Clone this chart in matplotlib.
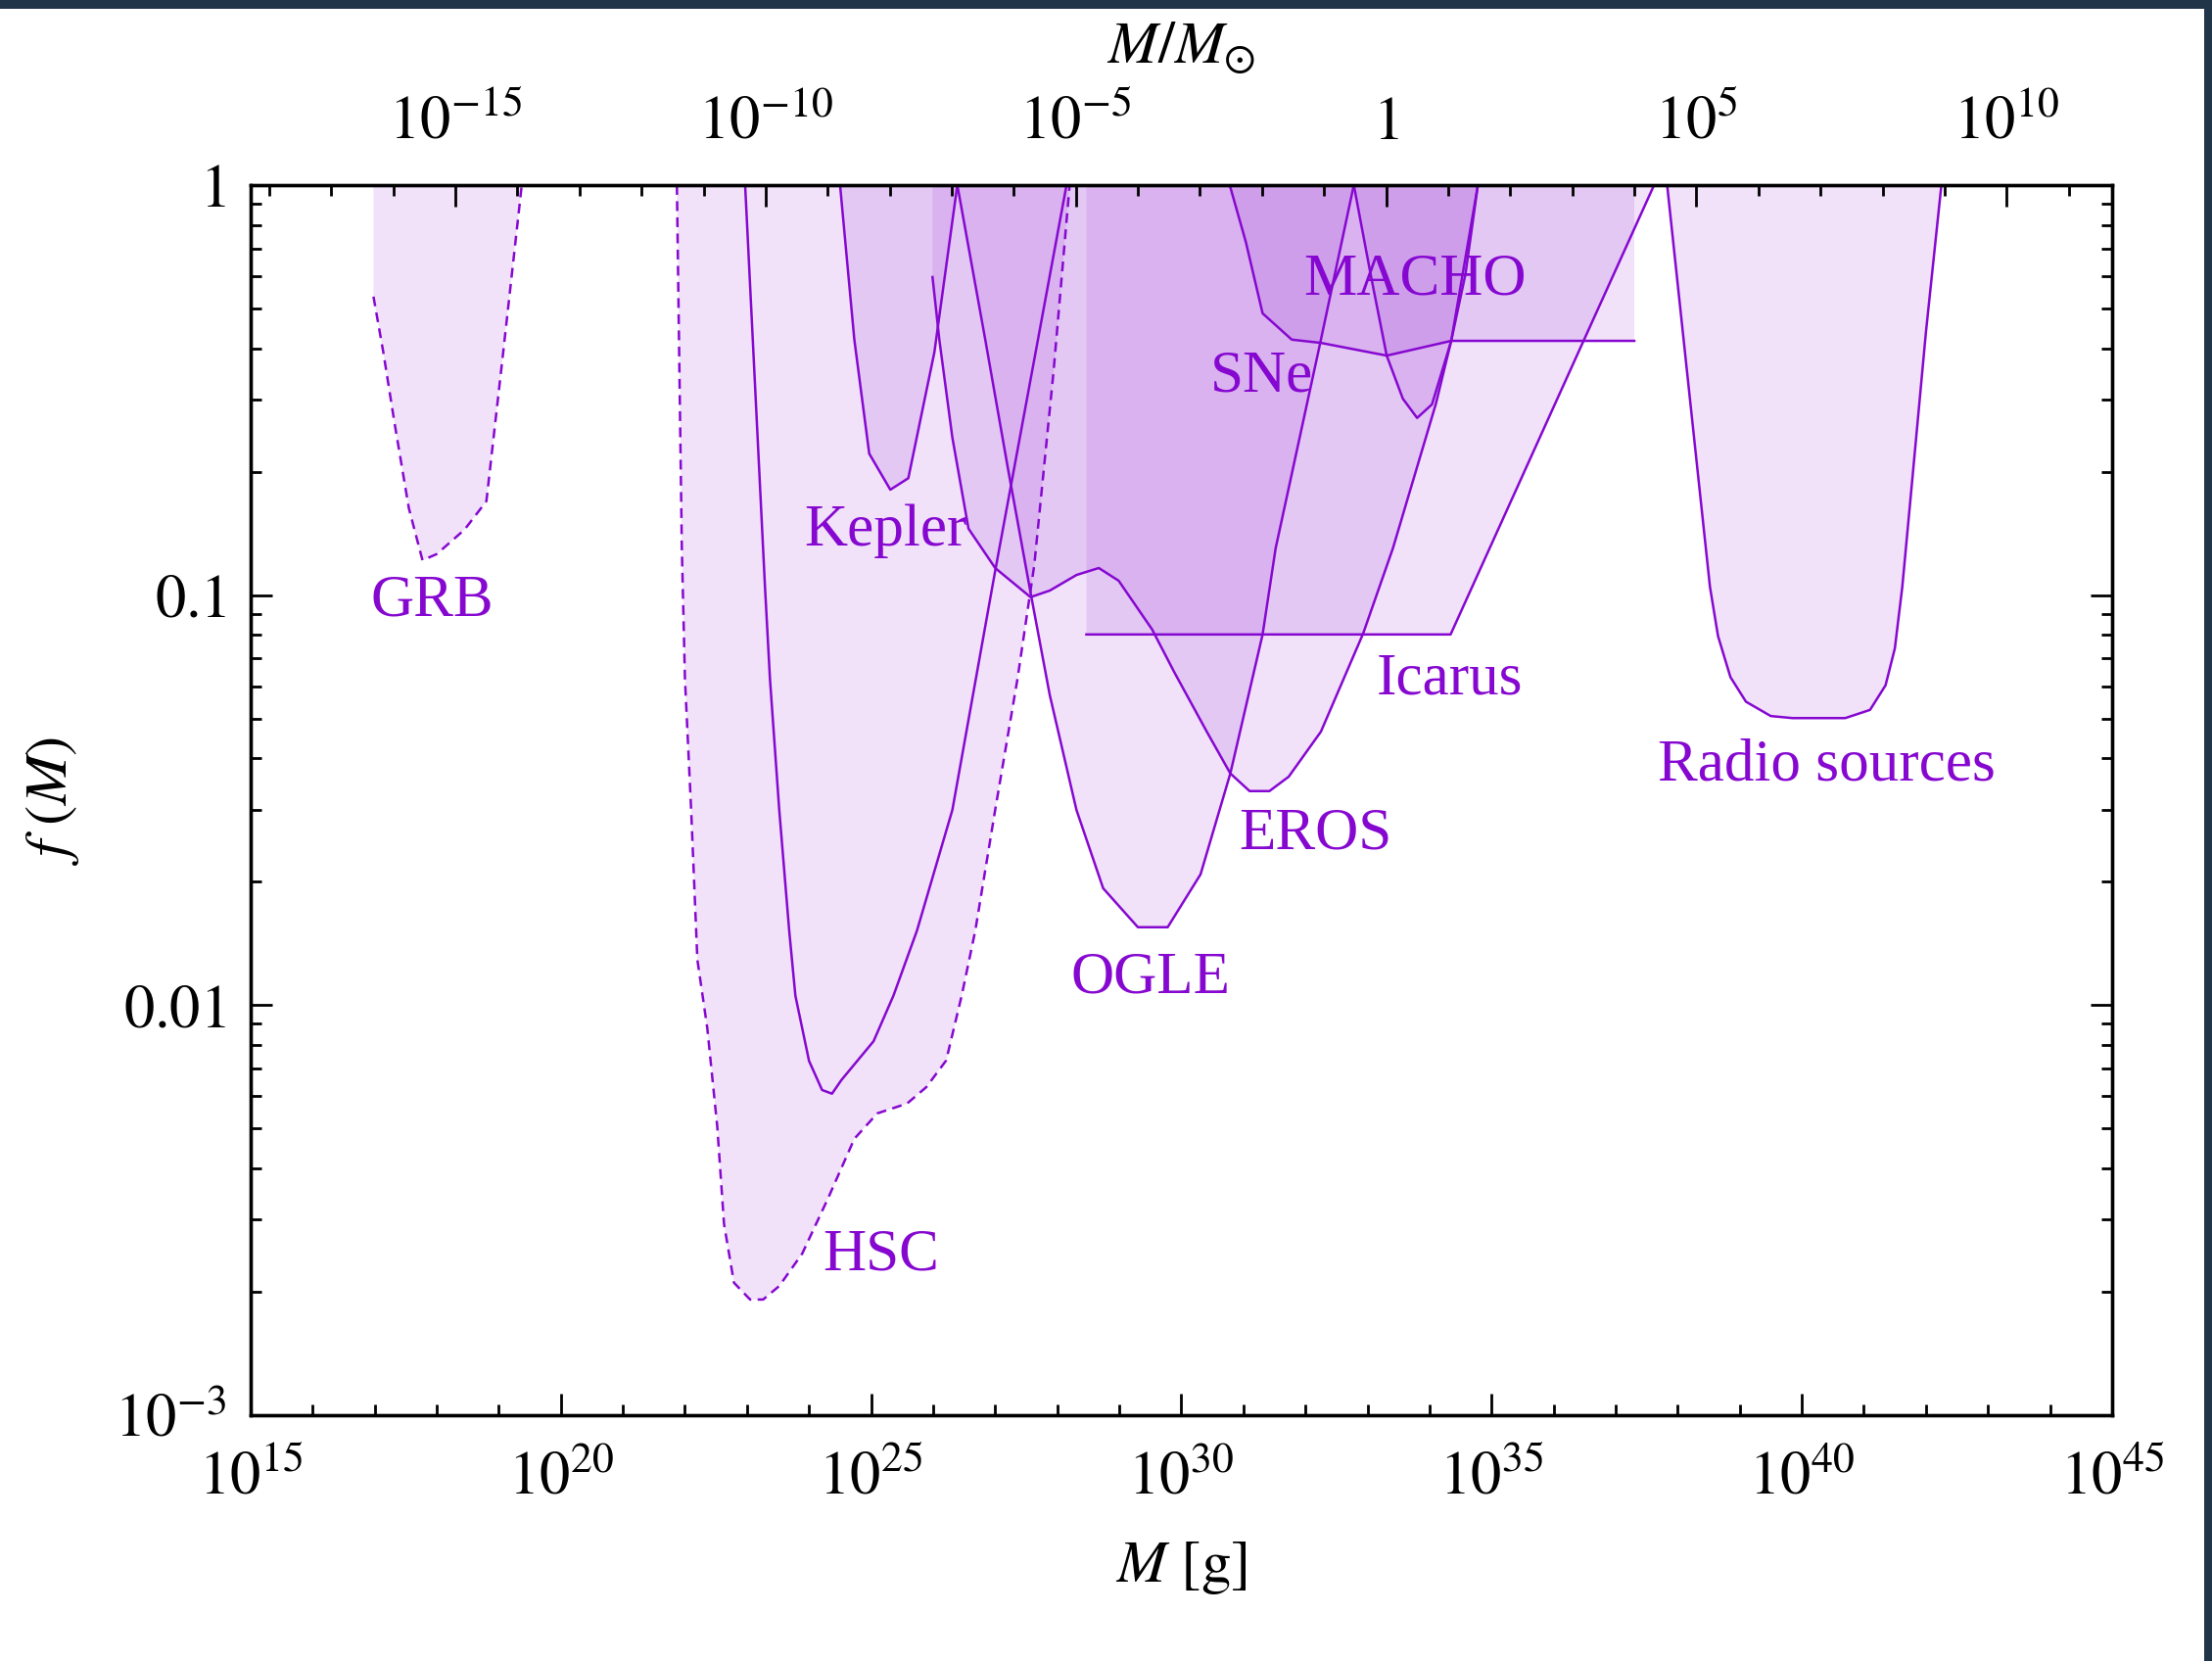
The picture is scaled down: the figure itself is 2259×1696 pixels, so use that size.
import numpy as np
import matplotlib.pyplot as plt
from matplotlib.ticker import FixedLocator, NullFormatter
from matplotlib.patches import Rectangle

plt.rcParams['font.family'] = ['Liberation Serif', 'DejaVu Serif']
plt.rcParams['mathtext.fontset'] = 'stix'

M_SUN = 2e33  # g

# constraint curves: log10(M / g) and log10 f(M)
grb_logm = [16.98, 17.14, 17.32, 17.55, 17.77, 18.0, 18.45, 18.80, 19.07, 19.37]
grb_logf = [-0.272, -0.409, -0.581, -0.788, -0.915, -0.90, -0.84, -0.771, -0.409, 0.0]

hsc_logm = [21.87, 21.95, 22.00, 22.10, 22.20, 22.36, 22.52, 22.63, 22.79, 23.05,
            23.26, 23.52, 23.89, 24.31, 24.73, 25.10, 25.58, 25.89, 26.21, 26.46,
            26.68, 27.00, 27.36, 27.63, 27.94, 28.20]
hsc_logf = [0.0, -0.886, -1.204, -1.524, -1.889, -2.056, -2.295, -2.534, -2.677, -2.718,
            -2.718, -2.685, -2.606, -2.470, -2.326, -2.264, -2.240, -2.200, -2.135, -1.977,
            -1.818, -1.524, -1.204, -0.927, -0.456, 0.0]

hsc2_logm = [22.97, 23.29, 23.37, 23.52, 23.68, 23.78, 24.00, 24.21, 24.37, 24.52,
             25.04, 25.36, 25.74, 26.31, 27.00, 28.15]
hsc2_logf = [0.0, -0.98, -1.204, -1.524, -1.818, -1.977, -2.136, -2.207, -2.216, -2.183,
             -2.088, -1.977, -1.818, -1.524, -0.941, 0.0]

kepler_logm = [24.50, 24.73, 24.97, 25.31, 25.60, 26.02, 26.39]
kepler_logf = [0.0, -0.377, -0.655, -0.743, -0.715, -0.408, 0.0]

eros_logm = [25.99, 26.10, 26.31, 26.57, 27.00, 27.57, 27.88, 28.31, 28.67, 28.99,
             29.53, 29.89, 30.41, 30.79, 31.10, 31.42, 31.73, 32.25, 32.93, 33.41,
             34.10, 34.35, 34.78]
eros_logf = [-0.2245, -0.377, -0.616, -0.838, -0.934, -1.005, -0.989, -0.951, -0.934, -0.965,
             -1.084, -1.189, -1.333, -1.435, -1.478, -1.478, -1.443, -1.333, -1.094, -0.886,
             -0.535, -0.380, 0.0]

ogle_logm = [26.39, 26.84, 27.21, 27.57, 27.88, 28.31, 28.74, 29.30, 29.78, 30.31,
             30.79, 31.31, 31.52, 32.25, 32.78]
ogle_logf = [0.0, -0.377, -0.695, -0.994, -1.244, -1.524, -1.715, -1.810, -1.810, -1.681,
             -1.435, -1.096, -0.886, -0.377, 0.0]

icarus_logm = [28.47, 34.34, 37.62]
icarus_logf = [-1.096, -1.096, 0.0]

macho_logm = [30.78, 31.04, 31.31, 31.78, 32.25, 33.31, 34.35, 37.30]
macho_logf = [0.0, -0.139, -0.313, -0.377, -0.385, -0.416, -0.380, -0.380]

sne_logm = [32.78, 33.05, 33.31, 33.57, 33.80, 34.04, 34.35, 34.58, 34.78]
sne_logf = [0.0, -0.217, -0.416, -0.521, -0.568, -0.535, -0.380, -0.217, 0.0]

radio_logm = [37.83, 38.52, 38.65, 38.85, 39.10, 39.50, 39.85, 40.70, 41.10, 41.35,
              41.50, 41.62, 41.78, 42.00, 42.25]
radio_logf = [0.0, -0.98, -1.10, -1.20, -1.26, -1.295, -1.30, -1.30, -1.28, -1.22,
              -1.13, -0.98, -0.72, -0.36, 0.0]

# label names and where they sit
label_names = ['GRB', 'HSC', 'Kepler', 'OGLE', 'EROS', 'Icarus', 'SNe', 'MACHO', 'Radio sources']
label_logm = [17.93, 25.16, 25.23, 29.50, 32.16, 34.32, 31.29, 33.76, 40.40]
label_logf = [-1.015, -2.611, -0.845, -1.935, -1.584, -1.205, -0.468, -0.232, -1.415]

top_ticks = [1e-15, 1e-10, 1e-5, 1, 1e5, 1e10]
top_labels = [r'$10^{-15}$', r'$10^{-10}$', r'$10^{-5}$', r'$1$', r'$10^{5}$', r'$10^{10}$']
bottom_ticks = [1e15, 1e20, 1e25, 1e30, 1e35, 1e40, 1e45]
bottom_labels = [r'$10^{15}$', r'$10^{20}$', r'$10^{25}$', r'$10^{30}$',
                 r'$10^{35}$', r'$10^{40}$', r'$10^{45}$']
y_ticks = [1e-3, 1e-2, 1e-1, 1]
y_labels = [r'$10^{-3}$', r'$0.01$', r'$0.1$', r'$1$']

purple = '#8608d0'
shade = '#8c14d2'

fig = plt.figure(figsize=(11.295, 8.48), dpi=200)
ax = fig.add_axes([0.1133, 0.148, 0.8415, 0.7406])
ax.set_xscale('log')
ax.set_yscale('log')


def region(logm, logf, fill=True, dashed=False):
    m = 10.0 ** np.array(logm)
    f = 10.0 ** np.array(logf)
    if fill:
        ax.fill_between(m, f, 1, facecolor=shade, alpha=0.12, lw=0)
    line, = ax.plot(m, f, color=purple, lw=0.9)
    if dashed:
        line.set_dashes((4, 2.6))


region(grb_logm, grb_logf, dashed=True)
region(hsc_logm, hsc_logf, dashed=True)
region(hsc2_logm, hsc2_logf, fill=False)
region(kepler_logm, kepler_logf)
region(eros_logm, eros_logf)
region(ogle_logm, ogle_logf)
region(icarus_logm, icarus_logf)
region(macho_logm, macho_logf)
region(sne_logm, sne_logf)
region(radio_logm, radio_logf)

for name, lm, lf in zip(label_names, label_logm, label_logf):
    ax.text(10.0 ** lm, 10.0 ** lf, name, color=purple, fontsize=22,
            ha='center', va='center')

ax.set_xlim(1e15, 1e45)
ax.set_ylim(1e-3, 1)
ax.set_xticks(bottom_ticks, labels=bottom_labels)
ax.xaxis.set_minor_locator(FixedLocator([10.0 ** k for k in range(15, 46)]))
ax.xaxis.set_minor_formatter(NullFormatter())
ax.set_yticks(y_ticks, labels=y_labels)
ax.yaxis.set_minor_locator(FixedLocator([s * 10.0 ** k for k in range(-3, 0) for s in range(2, 10)]))
ax.yaxis.set_minor_formatter(NullFormatter())

# top axis in solar masses
ax2 = ax.twiny()
ax2.set_xscale('log')
ax2.set_xlim(1e15 / M_SUN, 1e45 / M_SUN)
ax2.set_xticks(top_ticks, labels=top_labels)
ax2.xaxis.set_minor_locator(FixedLocator([10.0 ** k for k in range(-18, 13)]))
ax2.xaxis.set_minor_formatter(NullFormatter())

ax.tick_params(which='both', direction='in', top=False, right=True, labelsize=22.5, width=1)
ax.tick_params(which='major', length=8)
ax.tick_params(which='minor', length=4)
ax.tick_params(axis='x', pad=13)
ax.tick_params(axis='y', pad=9)
ax2.tick_params(which='both', direction='in', labelsize=22.5, width=1, pad=12)
ax2.tick_params(which='major', length=8)
ax2.tick_params(which='minor', length=4)
for a in (ax, ax2):
    for s in a.spines.values():
        s.set_linewidth(1.2)

ax.set_xlabel(r'$M\ [\mathrm{g}]$', fontsize=22, labelpad=12)
ax.set_ylabel(r'$f\ (M)$', fontsize=22, labelpad=12)
ax2.set_xlabel(r'$M/M_{\odot}$', fontsize=22, labelpad=12)

# dark frame edges of the screenshot
fig.patches.append(Rectangle((0, 1 - 9 / 1696), 1, 9 / 1696, transform=fig.transFigure,
                             facecolor='#213548', edgecolor='none', zorder=10))
fig.patches.append(Rectangle((1 - 8 / 2259, 0), 8 / 2259, 1, transform=fig.transFigure,
                             facecolor='#213548', edgecolor='none', zorder=10))

fig.savefig('out.png', dpi=200)
